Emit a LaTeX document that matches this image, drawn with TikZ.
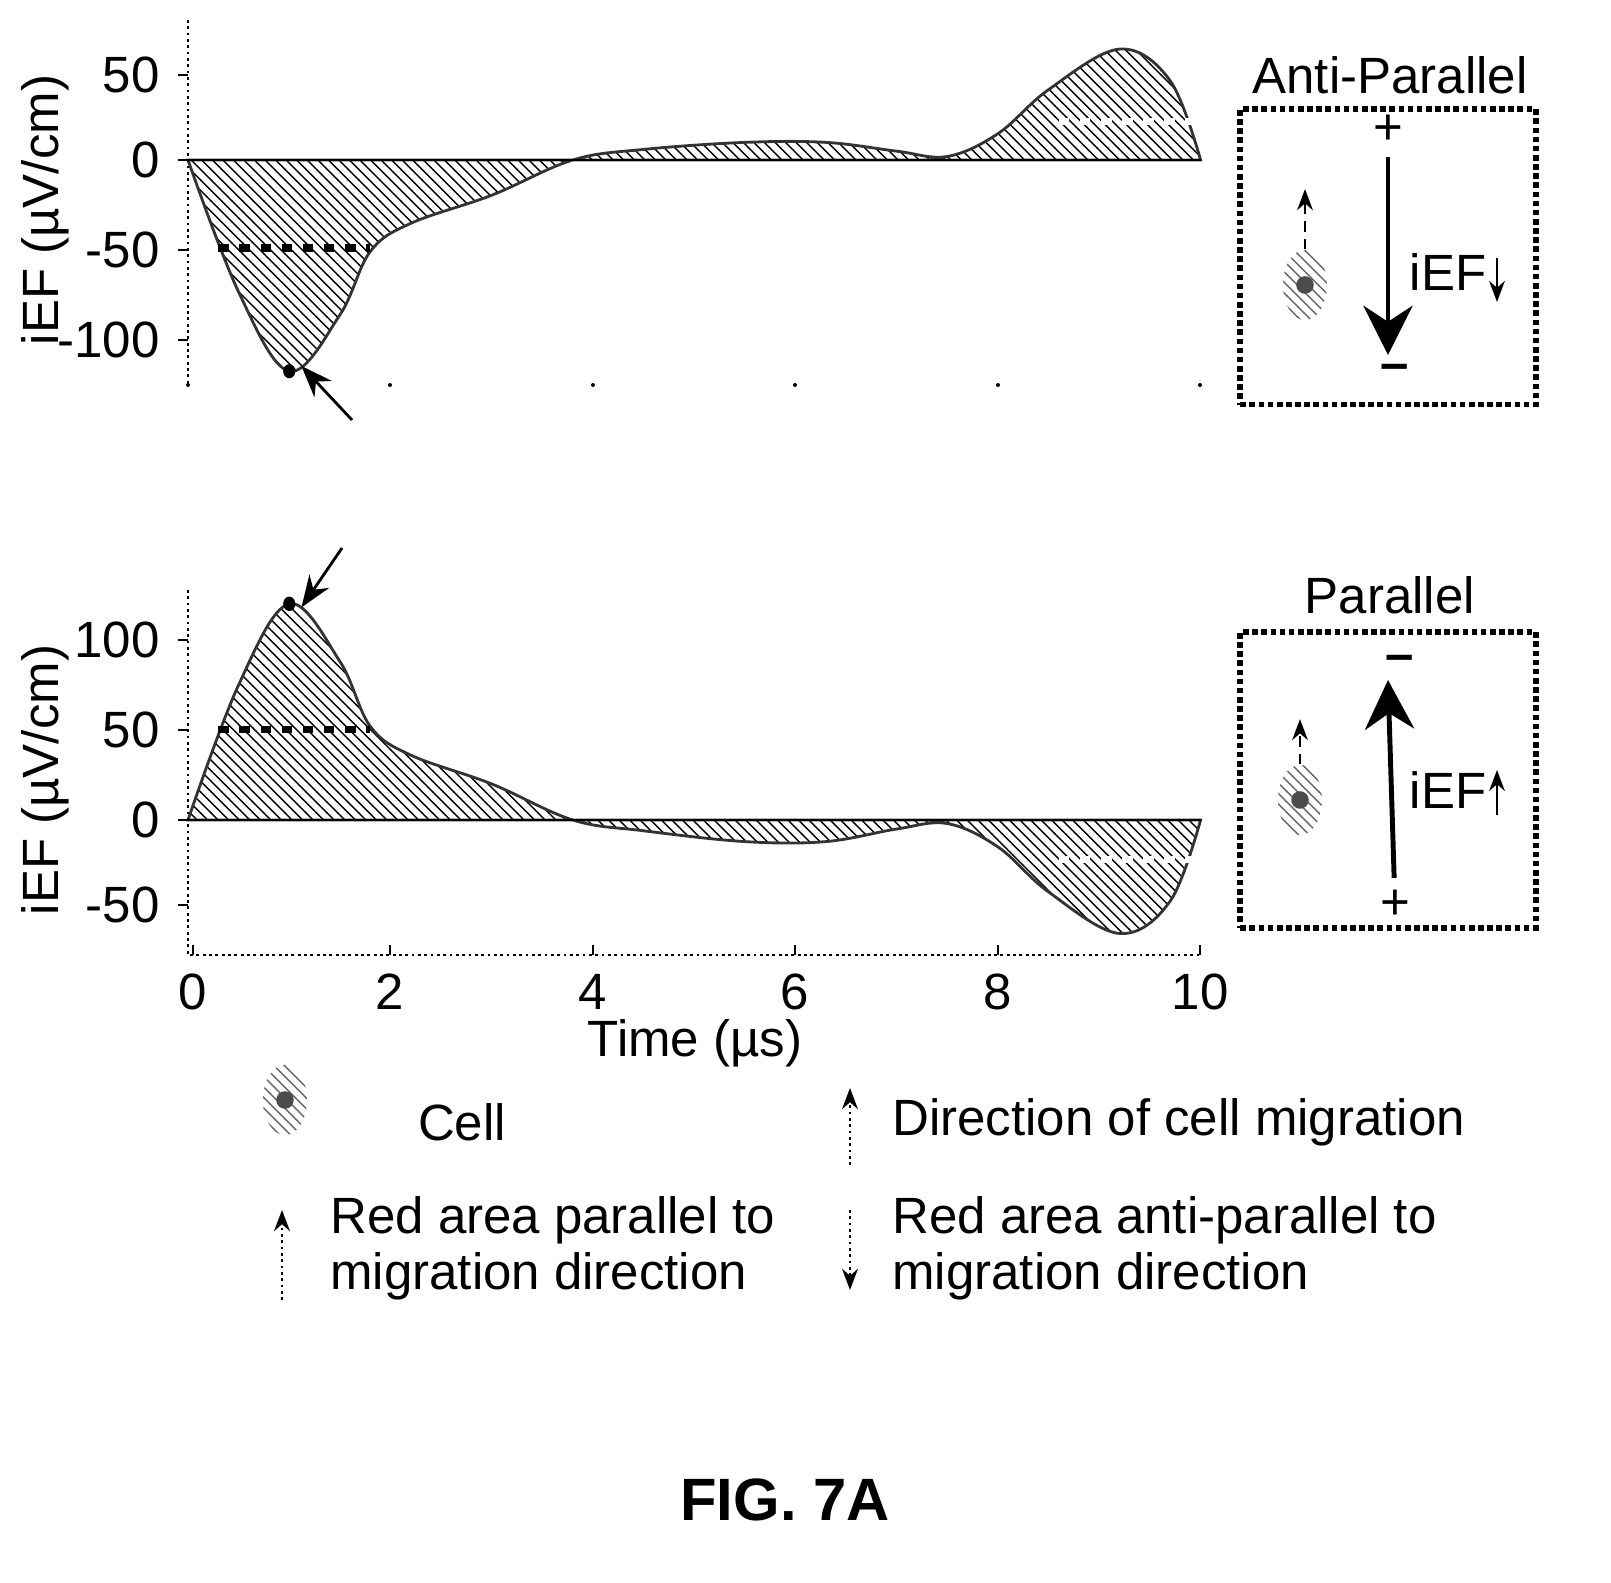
\documentclass[tikz,border=0pt]{standalone}
\usepackage{fontspec}
\setmainfont{Liberation Sans}
\usetikzlibrary{patterns,arrows.meta,shapes.geometric}
\begin{document}
\begin{tikzpicture}[x=0.01cm,y=-0.01cm,font=\fontsize{14.5}{16}\selectfont,
  hatch/.style={pattern=north west lines,pattern color=black,draw=black!80,thick},
  ax/.style={densely dotted,thick},
  cell/.style={ellipse,minimum width=12.5pt,minimum height=20pt,inner sep=0,pattern=north west lines,pattern color=black!60,draw=none,
    path picture={\fill[black!70] (path picture bounding box.center) circle (2.5pt);}},
  box/.style={draw,densely dotted,line width=1.6pt,minimum width=84pt,minimum height=84pt}]
\useasboundingbox (0,0) rectangle (1611,1583);
% ---------- top plot
\begin{scope}[shift={(188,160)},x=1.012cm,y=0.0176cm]
\path[hatch] plot[smooth,tension=0.6] coordinates{(0,0)(0.5,-75)(1,-120)(1.5,-88)(1.8,-52)(2.2,-36)(3,-20)(3.8,0)(4.5,6)(5.5,10)(6.3,10)(7,5)(7.5,2)(8,15)(8.5,40)(9.2,63)(9.7,45)(10,0)} -- cycle;
\draw[thick] (0,0) -- (10,0);
\draw[dashed,line width=2pt] (0.3,-50) -- (1.8,-50);
\draw[dashed,line width=2pt,white] (8.6,22) -- (10,22);
\fill (1,-120) circle (0.06 and 4);
\coordinate (pk1) at (1.12,-117);
\end{scope}
\coordinate (t1) at (352,420);
\draw[-{Stealth[length=9pt]},thick] (t1) -- (pk1);
\draw[ax] (188,20) -- (188,385);
\foreach \x in {188,390,593,795,998,1200} \fill (\x,385) circle (2);
\foreach \v/\y in {50/75,0/160,-50/250,-100/340}{\draw[thick] (188,\y) -- (178,\y); \node[anchor=east] (ty\v) at (172,\y) {\v};}
\node[rotate=90] (yl1) at (45,210) {iEF (µV/cm)};
% ---------- bottom plot
\begin{scope}[shift={(188,820)},x=1.012cm,y=0.018cm]
\path[hatch] plot[smooth,tension=0.6] coordinates{(0,0)(0.5,75)(1,120)(1.5,88)(1.8,52)(2.2,36)(3,20)(3.8,0)(4.5,-6)(5.5,-12)(6.3,-12)(7,-5)(7.5,-2)(8,-15)(8.5,-40)(9.2,-63)(9.7,-45)(10,0)} -- cycle;
\draw[thick] (0,0) -- (10,0);
\draw[dashed,line width=2pt] (0.3,50) -- (1.8,50);
\draw[dashed,line width=2pt,white] (8.6,-22) -- (10,-22);
\fill (1,120) circle (0.06 and 4);
\coordinate (pk2) at (1.12,118);
\end{scope}
\coordinate (t2) at (342,548);
\draw[-{Stealth[length=9pt]},thick] (t2) -- (pk2);
\draw[ax] (188,590) -- (188,955) -- (1200,955);
\foreach \v/\y in {100/640,50/730,0/820,-50/905}{\draw[thick] (188,\y) -- (178,\y); \node[anchor=east] (tb\v) at (172,\y) {\v};}
\foreach \t/\x in {0/193,2/390,4/593,6/795,8/998,10/1200}{\draw[thick] (\x,955) -- (\x,945); \node (tx\t) at (\x,992) {\t};}
\node (xl) at (695,1043) {Time (µs)};
\node[rotate=90] (yl2) at (45,780) {iEF (µV/cm)};
% ---------- insets
\node (ap) at (1390,75) {Anti-Parallel};
\node[box] (b1) at (1388,257) {};
\node (p1) at (1388,130) {+};
\node (m1) at (1395,372) {\textbf{--}};
\draw[-{Stealth[length=14pt,width=14pt]},line width=1.4pt] (p1) -- (1388,355);
\node[cell] (c1) at (1305,285) {};
\draw[densely dashed,-{Stealth[length=6pt]}] (c1.north) -- ++(0,-60);
\node (e1) at (1448,272) {iEF};
\draw[-{Stealth[length=6pt]}] (1497,258) -- (1497,302);
\node (pl) at (1390,595) {Parallel};
\node[box] (b2) at (1388,780) {};
\node (m2) at (1400,663) {\textbf{--}};
\node (p2) at (1395,905) {+};
\draw[-{Stealth[length=14pt,width=14pt]},line width=1.4pt] (p2) -- (1388,680);
\node[cell] (c2) at (1300,800) {};
\draw[densely dashed,-{Stealth[length=6pt]}] (c2.north) -- ++(0,-45);
\node (e2) at (1448,790) {iEF};
\draw[-{Stealth[length=6pt]}] (1497,815) -- (1497,770);
% ---------- legend
\node[cell] (lc) at (285,1100) {};
\node (lct) at (462,1122) {Cell};
\coordinate (d1) at (850,1165); \coordinate (d2) at (850,1088);
\draw[densely dotted,thick,-{Stealth[length=6pt]}] (d1) -- (d2);
\node[anchor=west] (ldt) at (880,1122) {Direction of cell migration};
\coordinate (u1) at (282,1300); \coordinate (u2) at (282,1210);
\draw[densely dotted,thick,-{Stealth[length=6pt]}] (u1) -- (u2);
\node[anchor=west,align=left] (lut) at (318,1248) {Red area parallel to\\migration direction};
\coordinate (w1) at (850,1210); \coordinate (w2) at (850,1290);
\draw[densely dotted,thick,-{Stealth[length=6pt]}] (w1) -- (w2);
\node[anchor=west,align=left] (lwt) at (880,1248) {Red area anti-parallel to\\migration direction};
\node[font=\fontsize{17}{20}\selectfont\bfseries] (fig) at (785,1500) {FIG. 7A};
\end{tikzpicture}
\end{document}
